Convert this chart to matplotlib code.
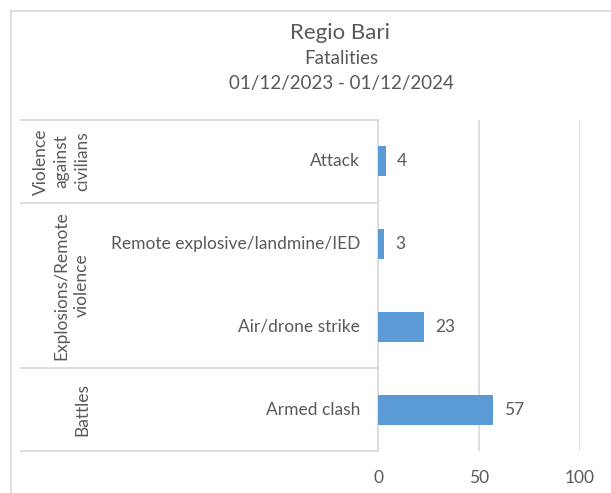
import matplotlib.pyplot as plt
from matplotlib.transforms import blended_transform_factory

# data
groups = ["Battles", "Explosions/Remote\nviolence", "Violence\nagainst\ncivilians"]
group_rows = [(0, 0), (1, 2), (3, 3)]  # first and last row of each group
categories = ["Armed clash", "Air/drone strike", "Remote explosive/landmine/IED", "Attack"]
fatalities = [57, 23, 3, 4]
xticks = [0, 50, 100]

W, H = 611, 493
TXT = "#595959"
GRID = "#d9d9d9"
BAR = "#5B9BD5"
plt.rcParams['font.family'] = ['Lato', 'DejaVu Sans']


def fx(px):
    return px / W


def fy(py):
    return 1 - py / H


fig = plt.figure(figsize=(W / 100, H / 100), dpi=100)

# outer chart border
fig.add_artist(plt.Line2D([fx(11), fx(11)], [fy(11), fy(H + 5)], color=GRID, lw=1.2))
fig.add_artist(plt.Line2D([fx(11), fx(W + 5)], [fy(11), fy(11)], color=GRID, lw=1.2))

# titles
fig.text(fx(340), fy(33), "Regio Bari", ha="center", va="center", fontsize=16, color=TXT)
fig.text(fx(341), fy(58), "Fatalities", ha="center", va="center", fontsize=13.5, color=TXT)
fig.text(fx(341), fy(84), "01/12/2023 - 01/12/2024", ha="center", va="center", fontsize=13.5, color=TXT)

ax = fig.add_axes([fx(378), fy(451), fx(580) - fx(378), fy(120) - fy(451)])
ypos = list(range(len(categories)))
ax.barh(ypos, fatalities, height=0.36, color=BAR, zorder=3)
ax.set_xlim(0, 100)
ax.set_ylim(-0.5, len(categories) - 0.5)

for y, v in zip(ypos, fatalities):
    ax.annotate(str(v), (v, y), xytext=(8, 0), textcoords="offset points",
                ha="left", va="center", fontsize=12.5, color=TXT)

ax.set_xticks(xticks)
ax.set_xticklabels([str(t) for t in xticks], fontsize=12.5, color=TXT)
ax.tick_params(axis="x", length=0, pad=14)
ax.set_yticks([])
ax.grid(axis="x", color=GRID, lw=1.2, zorder=0)
for s in ["top", "right", "bottom"]:
    ax.spines[s].set_visible(False)
ax.spines["left"].set_color(GRID)
ax.spines["left"].set_linewidth(1.2)

# category table at the left
tr = blended_transform_factory(fig.transFigure, ax.transData)
for y, name in zip(ypos, categories):
    fig.text(fx(360), y, name, transform=tr, ha="right", va="center",
             fontsize=12.5, color=TXT)

bounds = [-0.5]
for (a, b), name in zip(group_rows, groups):
    bounds.append(b + 0.5)
    fig.text(fx(90), (a + b) / 2, name, transform=tr, rotation=90,
             ha="right", va="center", multialignment="center",
             fontsize=12.5, color=TXT, linespacing=1.35)
for b in bounds:
    fig.add_artist(plt.Line2D([fx(21), fx(378)], [b, b], transform=tr,
                              color=GRID, lw=1.2))

fig.savefig("out.png", dpi=100)
